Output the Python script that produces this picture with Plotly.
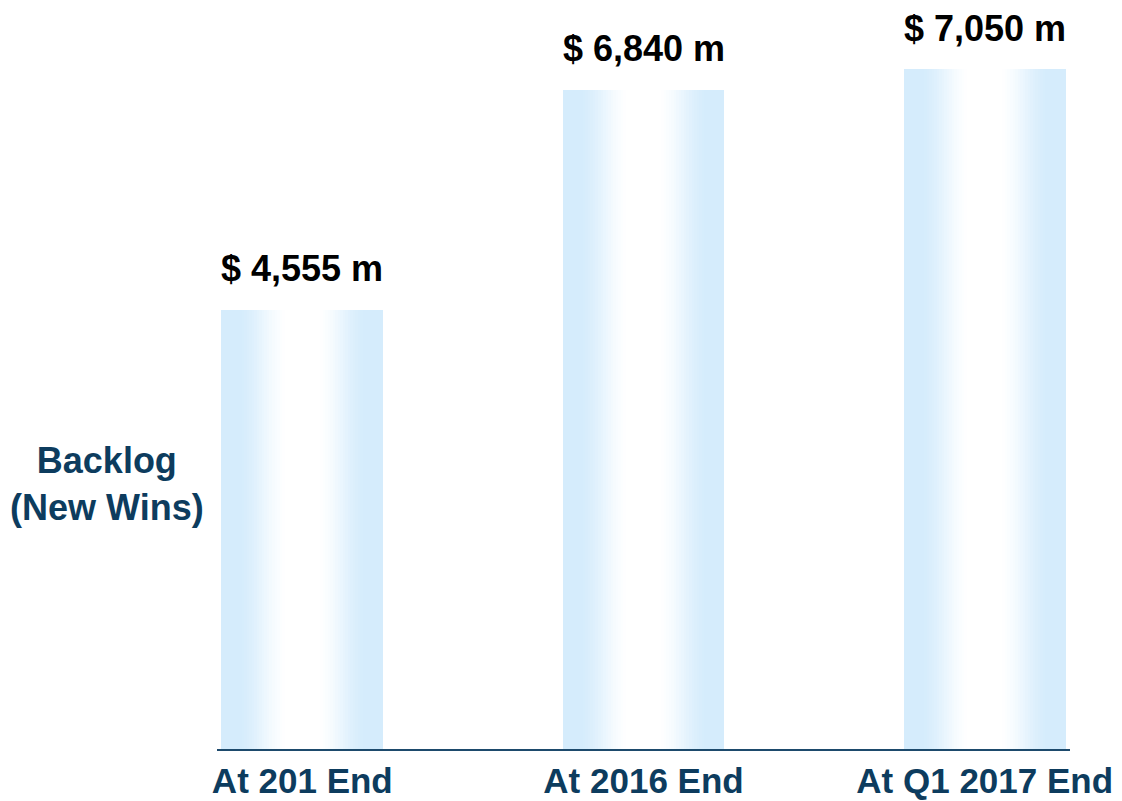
"""Backlog (new wins) bar chart with soft horizontal gradient bars."""

import plotly.graph_objects as go

PERIODS = ["At 201 End", "At 2016 End", "At Q1 2017 End"]
BACKLOG = [4555, 6840, 7050]
VALUE_LABELS = ["$ 4,555 m", "$ 6,840 m", "$ 7,050 m"]

NAVY = "#0d3c5e"
EDGE_BLUE = (213, 236, 252)
BAR_WIDTH = 0.474
N_LAYERS = 32
FONT = "Arial, Liberation Sans, sans-serif"


def gradient_color(t):
    """t = 0 at bar edge, 1 at bar centre."""
    f = min(max((t - 0.18) / 0.64, 0.0), 1.0)
    f = f * f * (3 - 2 * f)
    r, g, b = (round(c + (255 - c) * f) for c in EDGE_BLUE)
    return f"rgb({r},{g},{b})"


fig = go.Figure()

# nested overlay bars fake the edge-to-centre gradient
for k in range(N_LAYERS):
    t = k / N_LAYERS
    fig.add_trace(go.Bar(
        x=PERIODS,
        y=BACKLOG,
        width=BAR_WIDTH * (1 - t),
        marker_color=gradient_color(t),
        marker_line_width=0,
        hoverinfo="skip" if k else "y",
        showlegend=False,
    ))

for period, value, label in zip(PERIODS, BACKLOG, VALUE_LABELS):
    fig.add_annotation(
        x=period, y=value, text=f"<b>{label}</b>",
        showarrow=False, yanchor="middle", yshift=41,
        font=dict(size=36, color="black", family=FONT),
    )

fig.add_annotation(
    xref="paper", yref="paper", x=-0.129, y=0.374,
    text="<b>Backlog<br>(New Wins)</b>", showarrow=False,
    xanchor="center", yanchor="middle",
    font=dict(size=36, color=NAVY, family=FONT),
)

# the page body adds an 8px offset, so left/top margins are trimmed by 8
fig.update_layout(
    width=1122,
    height=801,
    barmode="overlay",
    bargap=0,
    plot_bgcolor="white",
    paper_bgcolor="white",
    margin=dict(l=209, r=60, t=32, b=60),
    font=dict(family=FONT),
)
fig.update_xaxes(
    range=[-0.25, 2.25], automargin=False,
    showline=True, linecolor="#1d4a6c", linewidth=2,
    showgrid=False, ticks="", ticklabelstandoff=0,
    tickfont=dict(size=35, color=NAVY, family=FONT, weight="bold"),
)
fig.update_yaxes(range=[0, 7355], visible=False)

fig.write_html("out.html")
